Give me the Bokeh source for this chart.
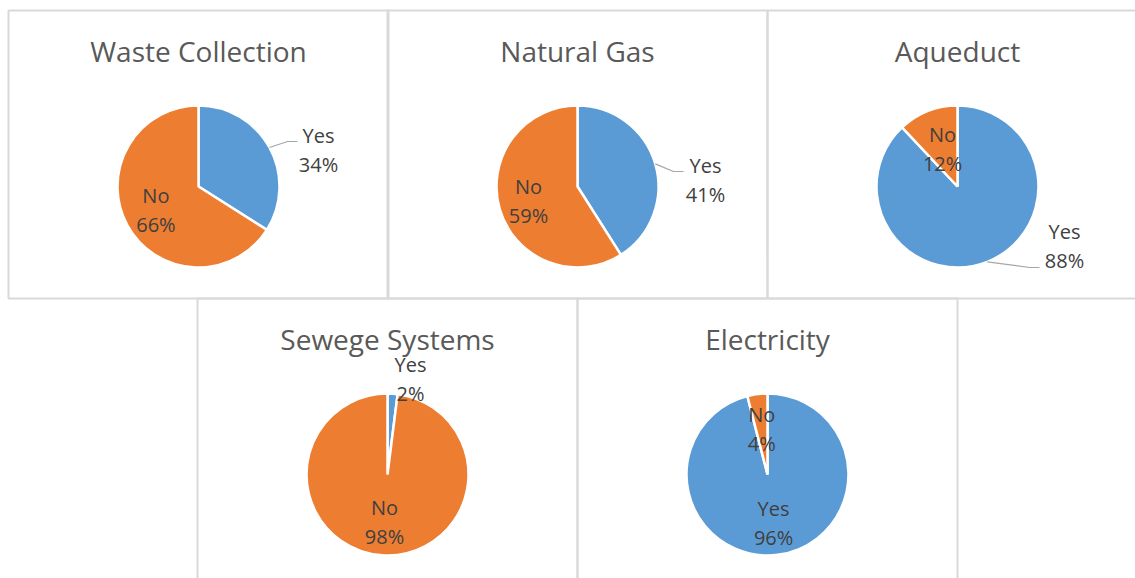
import math
from bokeh.plotting import figure
from bokeh.models import Range1d, ColumnDataSource
from bokeh.core.properties import value
from bokeh.embed import file_html
from bokeh.resources import INLINE

# ---- data -------------------------------------------------------------
titles = ["Waste Collection", "Natural Gas", "Aqueduct", "Sewege Systems", "Electricity"]
slice_names = ["Yes", "No"]
yes_pct = [34, 41, 88, 2, 96]
no_pct = [66, 59, 12, 98, 4]
slice_colors = ["#5B9BD5", "#ED7D31"]

# ---- layout (screen pixels, y measured downward) ----------------------
W, H = 1135, 578
PANEL_W, PANEL_H = 380, 288
panel_origin = [(8, 10), (387, 10), (767, 10), (197, 298), (577, 298)]
R = 81
CENTER_DX, CENTER_DY = 190, 176
TITLE_DY = 40
LINE_GAP = 29

# label placement per panel and slice:
#   ("in", radial fraction)  -> inside the slice along its mid-angle
#   ("out", dx, dy, lx, ly)  -> block centre offset from pie centre, leader end offset from block
label_place = [
    {"Yes": ("out", 120, -37, -21, -8), "No": ("in", 0.6)},
    {"Yes": ("out", 128, -7, -22, -8), "No": ("in", 0.63)},
    {"Yes": ("out", 107, 59, -25, 22), "No": ("in", 0.5)},
    {"Yes": ("out", 23, -96, None, None), "No": ("in", 0.59)},
    {"Yes": ("in", 0.6), "No": ("in", 0.56)},
]


def Y(y):
    return H - y


p = figure(width=W, height=H, output_backend="svg", toolbar_location=None,
           x_range=Range1d(0, W), y_range=Range1d(0, H),
           x_axis_location=None, y_axis_location=None, min_border=0)
p.grid.visible = False
p.outline_line_color = None
p.background_fill_color = "white"
p.border_fill_color = "white"

# panel frames
p.quad(left=[o[0] for o in panel_origin],
       right=[o[0] + PANEL_W for o in panel_origin],
       top=[Y(o[1]) for o in panel_origin],
       bottom=[Y(o[1] + PANEL_H) for o in panel_origin],
       fill_color=None, line_color="#D9D9D9", line_width=2)

wedge = dict(x=[], y=[], start=[], end=[], color=[])
txt = dict(x=[], y=[], text=[])
leaders = dict(xs=[], ys=[])
title_src = dict(x=[], y=[], text=[])

for i, title in enumerate(titles):
    ox, oy = panel_origin[i]
    cx, cy = ox + CENTER_DX, oy + CENTER_DY
    title_src["x"].append(cx)
    title_src["y"].append(Y(oy + TITLE_DY))
    title_src["text"].append(title)

    vals = [yes_pct[i], no_pct[i]]
    total = float(sum(vals))
    cum = 0.0
    for j, v in enumerate(vals):
        f0, f1 = cum / total, (cum + v) / total
        cum += v
        wedge["x"].append(cx)
        wedge["y"].append(Y(cy))
        wedge["start"].append(math.pi / 2 - 2 * math.pi * f0)
        wedge["end"].append(math.pi / 2 - 2 * math.pi * f1)
        wedge["color"].append(slice_colors[j])

        mid = 2 * math.pi * (f0 + f1) / 2  # clockwise from 12 o'clock
        ux, uy = math.sin(mid), -math.cos(mid)  # screen direction
        place = label_place[i][slice_names[j]]
        if place[0] == "in":
            bx, by = cx + place[1] * R * ux, cy + place[1] * R * uy
        else:
            bx, by = cx + place[1], cy + place[2]
            if place[3] is not None:
                ex, ey = bx + place[3], by + place[4]
                sx, sy = cx + R * ux, cy + R * uy
                leaders["xs"].append([sx, ex - 10, ex])
                leaders["ys"].append([Y(sy), Y(ey), Y(ey)])
        txt["x"] += [bx, bx]
        txt["y"] += [Y(by - LINE_GAP / 2), Y(by + LINE_GAP / 2)]
        txt["text"] += [slice_names[j], f"{v}%"]

p.wedge(x="x", y="y", radius=R, start_angle="start", end_angle="end",
        direction="clock", fill_color="color", line_color="white", line_width=2.5,
        source=ColumnDataSource(wedge))

p.multi_line(xs="xs", ys="ys", line_color="#A6A6A6", line_width=1.2,
             source=ColumnDataSource(leaders))

p.text(x="x", y="y", text="text", source=ColumnDataSource(title_src),
       text_align="center", text_baseline="middle",
       text_font=value("Open Sans"), text_font_size="28px", text_color="#595959")

p.text(x="x", y="y", text="text", source=ColumnDataSource(txt),
       text_align="center", text_baseline="middle",
       text_font=value("Open Sans"), text_font_size="20px", text_color="#404040")

open("out.html", "w").write(file_html(p, INLINE))
